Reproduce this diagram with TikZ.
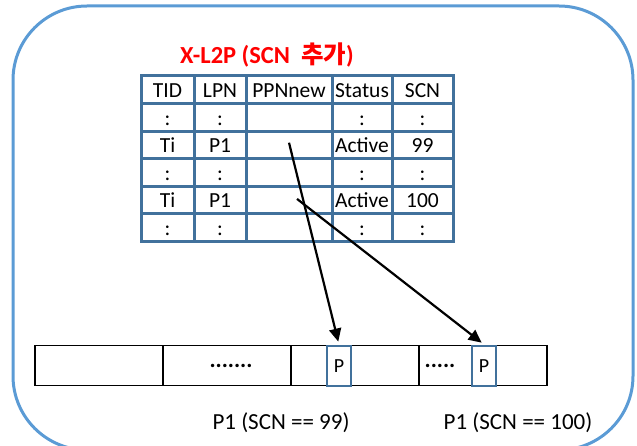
\documentclass[tikz,border=0pt]{standalone}
\usepackage{fontspec}
\setmainfont{Carlito}
\newfontfamily\krfont{Noto Sans CJK KR}
\usepackage{xcolor}
\usetikzlibrary{positioning,calc,arrows.meta}
\definecolor{frameblue}{HTML}{5B9BD5}
\definecolor{gridblue}{HTML}{41719C}

\begin{document}
\begin{tikzpicture}[x=1pt,y=-1pt,
    cell/.style={inner sep=0pt, text height=14pt, text depth=0pt, font=\fontsize{21.5}{24}\selectfont},
    grid/.style={draw=gridblue, line width=3pt, line cap=rect},
    seg/.style={draw=black, line width=1.2pt, minimum width=128pt, minimum height=40pt, inner sep=0pt, outer sep=0pt},
    pbox/.style={draw=gridblue, line width=2.4pt, fill=white, minimum width=24pt, minimum height=40pt, inner sep=0pt, font=\fontsize{20}{22}\selectfont},
    ptr/.style={line width=2.2pt, -{Triangle[length=13pt,width=12pt]}, shorten >=3pt},
    lbl/.style={font=\fontsize{23}{26}\selectfont}]
    \useasboundingbox (0,0) rectangle (637,446);
    % Frame
    \draw[frameblue, line width=3pt, rounded corners=74pt] (13,6) rectangle (633,450);
    % Title
    \node[text=red, font=\bfseries\fontsize{24.5}{28}\selectfont] (title) at (267,55) {X-L2P (SCN\ \ {\krfont 추가})};
    % Table grid
    \foreach \r in {0,...,6} {
        \draw[grid] (141,{76+27.6*\r}) -- (453,{76+27.6*\r});
    }
    \foreach \x in {141,194,246,332,392,453} {
        \draw[grid] (\x,76) -- (\x,241.6);
    }
    % Table entries
    \foreach \a/\b/\c/\d/\e [count=\r from 0] in {TID/LPN/PPNnew/Status/SCN, :/:/{}/:/:, Ti/P1/{}/Active/99, :/:/{}/:/:, Ti/P1/{}/Active/100, :/:/{}/:/:} {
        \node[cell] (tid\r) at (167.5,{90.5+27.6*\r}) {\a};
        \node[cell] (lpn\r) at (220,{90.5+27.6*\r}) {\b};
        \node[cell] (ppn\r) at (289,{90.5+27.6*\r}) {\c};
        \node[cell] (status\r) at (362,{90.5+27.6*\r}) {\d};
        \node[cell] (scn\r) at (422.5,{90.5+27.6*\r}) {\e};
    }
    % Flash pages
    \foreach \i in {1,...,4} {
        \node[seg] (seg\i) at ({35+128*(\i-0.5)},365.7) {};
    }
    \node[lbl] (dots1) at (231,366) {\textbf{.......}};
    \node[lbl] (dots2) at (440,366) {\textbf{.....}};
    \node[pbox] (pbox1) at (339,365.7) {P};
    \node[pbox] (pbox2) at (484,365.7) {P};
    % Pointers
    \draw[ptr] ($(ppn2)+(0,-3)$) -- (pbox1.north);
    \draw[ptr] ($(ppn4)+(8,-2)$) -- (pbox2.north);
    % Labels
    \node[lbl] (lab1) at (281,423) {P1 (SCN == 99)};
    \node[lbl] (lab2) at (518,423) {P1 (SCN == 100)};
\end{tikzpicture}
\end{document}
